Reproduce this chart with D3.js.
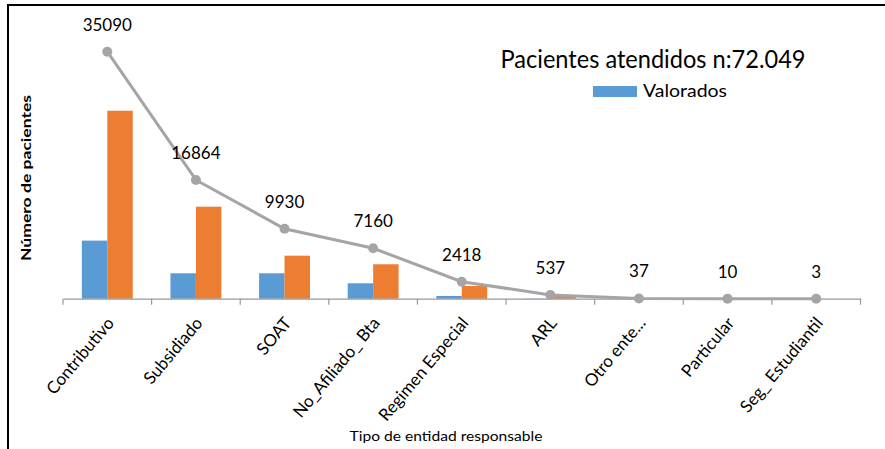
<!DOCTYPE html>
<html>
<head>
<meta charset="utf-8">
<script src="https://cdn.jsdelivr.net/npm/d3@7"></script>
<style>
  html, body { margin: 0; padding: 0; background: #fff; }
  svg { display: block; }
  text { font-family: Lato, "Open Sans", "Noto Sans", sans-serif; }
</style>
</head>
<body>
<svg id="chart" width="885" height="449"></svg>
<script>
// Tipos de entidad responsable
const categories = ["Contributivo", "Subsidiado", "SOAT", "No_Afiliado_ Bta", "Regimen Especial",
                    "ARL", "Otro ente...", "Particular", "Seg_ Estudiantil"];
// Total de pacientes atendidos por entidad (línea)
const totals = [35090, 16864, 9930, 7160, 2418, 537, 37, 10, 3];
// Pacientes valorados (barras azules)
const valorados = [8250, 3610, 3610, 2190, 390, 40, 4, 1, 0];
// Pacientes no valorados (barras naranjas)
const noValorados = [26700, 13070, 6110, 4890, 1800, 480, 30, 8, 2];

const title = "Pacientes atendidos n:72.049";
const legendLabel = "Valorados";
const yTitle = "Número de pacientes";
const xTitle = "Tipo de entidad responsable";

const BLUE = "#5b9bd5", ORANGE = "#ed7d31", GRAY = "#a5a5a5";

const svg = d3.select("#chart");

// marco exterior (borde superior e izquierdo)
svg.append("line").attr("x1", 8).attr("y1", 5).attr("x2", 885).attr("y2", 5)
  .attr("stroke", "#000").attr("stroke-width", 2);
svg.append("line").attr("x1", 8).attr("y1", 4).attr("x2", 8).attr("y2", 449)
  .attr("stroke", "#000").attr("stroke-width", 2);

const x = d3.scaleBand().domain(categories).range([63, 860.5]).paddingInner(0).paddingOuter(0);
const y = d3.scaleLinear().domain([0, 40000]).range([298.7, 17.1]);
const xs = d3.scaleBand().domain(["valorados", "noValorados"])
  .range([0, x.bandwidth()]).paddingInner(0).paddingOuter(0.74);

const rows = categories.map((c, i) => ({
  cat: c, total: totals[i], valorados: valorados[i], noValorados: noValorados[i]
}));

// barras
const g = svg.append("g");
rows.forEach(r => {
  const gx = x(r.cat);
  [["valorados", BLUE], ["noValorados", ORANGE]].forEach(([k, col]) => {
    g.append("rect")
      .attr("x", gx + xs(k))
      .attr("width", xs.bandwidth())
      .attr("y", y(r[k]))
      .attr("height", y(0) - y(r[k]))
      .attr("fill", col);
  });
});

// eje X
const axis = svg.append("g")
  .attr("transform", `translate(0,${y(0)})`)
  .call(d3.axisBottom(x).tickSize(0).tickSizeOuter(0).tickFormat(""));
axis.select(".domain").attr("stroke", "#999").attr("stroke-width", 1.3);
axis.selectAll(".tick").remove();
const edges = categories.map(c => x(c)).concat([x(categories[categories.length - 1]) + x.bandwidth()]);
axis.selectAll("line.edge").data(edges).enter().append("line")
  .attr("class", "edge")
  .attr("x1", d => d).attr("x2", d => d)
  .attr("y1", 0).attr("y2", 6)
  .attr("stroke", "#999").attr("stroke-width", 1.2);

// etiquetas de categoría rotadas
svg.append("g").selectAll("text").data(categories).enter().append("text")
  .attr("transform", d => `translate(${x(d) + x.bandwidth() / 2 + 3},${y(0) + 21}) rotate(-50)`)
  .attr("text-anchor", "end")
  .attr("dy", "0.35em")
  .attr("font-size", 17)
  .attr("fill", "#000")
  .text(d => d);

// línea de totales
const line = d3.line()
  .x(d => x(d.cat) + x.bandwidth() / 2)
  .y(d => y(d.total));
svg.append("path").datum(rows)
  .attr("d", line)
  .attr("fill", "none")
  .attr("stroke", GRAY)
  .attr("stroke-width", 3);
svg.append("g").selectAll("circle").data(rows).enter().append("circle")
  .attr("cx", d => x(d.cat) + x.bandwidth() / 2)
  .attr("cy", d => y(d.total))
  .attr("r", 5)
  .attr("fill", GRAY);

// valores de la línea
svg.append("g").selectAll("text").data(rows).enter().append("text")
  .attr("x", d => x(d.cat) + x.bandwidth() / 2)
  .attr("y", d => y(d.total) - 21)
  .attr("text-anchor", "middle")
  .attr("font-size", 17)
  .attr("fill", "#000")
  .text(d => d.total);

// título
svg.append("text")
  .attr("x", 653).attr("y", 68)
  .attr("text-anchor", "middle")
  .attr("font-size", 25)
  .attr("fill", "#000")
  .attr("textLength", 305)
  .attr("lengthAdjust", "spacingAndGlyphs")
  .text(title);

// leyenda
svg.append("rect").attr("x", 593).attr("y", 86).attr("width", 44).attr("height", 11).attr("fill", BLUE);
svg.append("text").attr("x", 643).attr("y", 97)
  .attr("font-size", 18).attr("fill", "#000")
  .attr("textLength", 84).attr("lengthAdjust", "spacingAndGlyphs")
  .text(legendLabel);

// títulos de ejes
svg.append("text")
  .attr("transform", "translate(31,178) rotate(-90)")
  .attr("text-anchor", "middle")
  .attr("font-size", 14).attr("font-weight", "bold").attr("fill", "#000")
  .attr("textLength", 166).attr("lengthAdjust", "spacingAndGlyphs")
  .text(yTitle);
svg.append("text")
  .attr("x", 446).attr("y", 441)
  .attr("text-anchor", "middle")
  .attr("font-size", 14).attr("fill", "#000")
  .attr("textLength", 193).attr("lengthAdjust", "spacingAndGlyphs")
  .text(xTitle);
</script>
</body>
</html>
